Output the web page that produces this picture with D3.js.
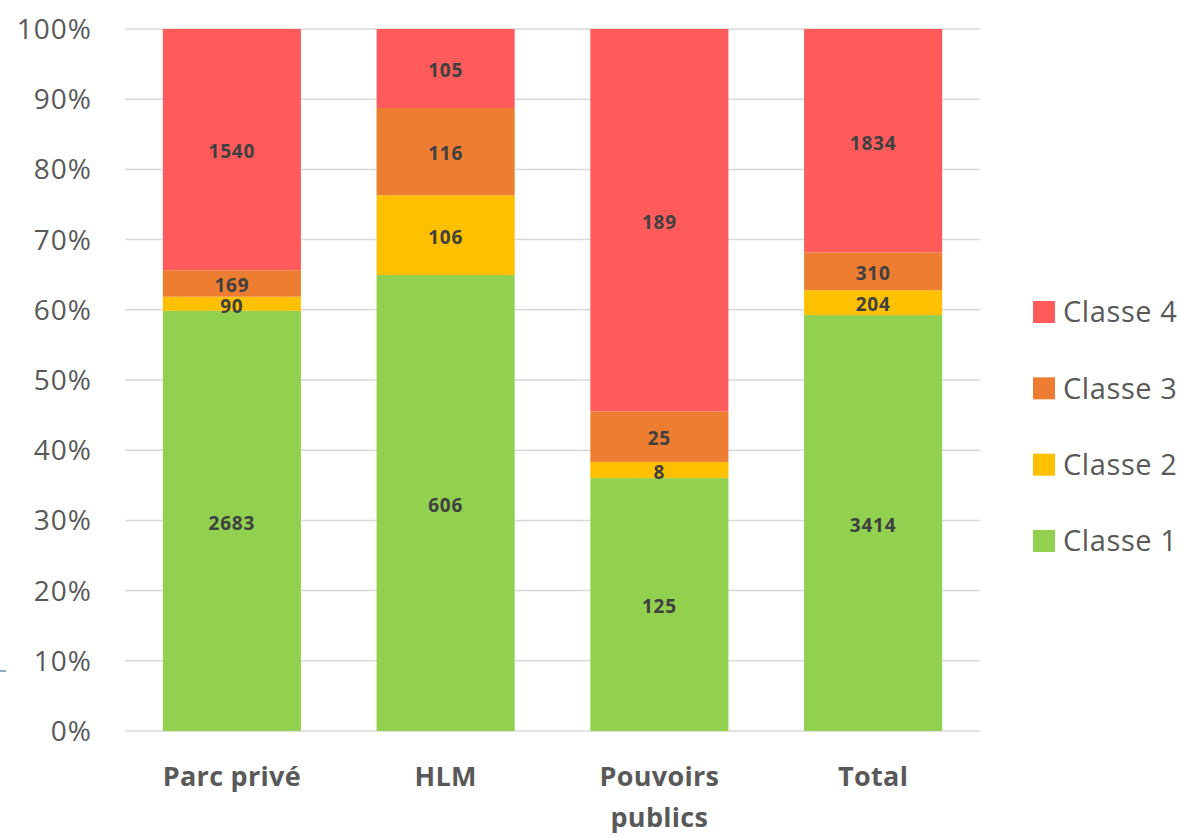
<!DOCTYPE html>
<html><head><meta charset="utf-8">
<script src="https://cdn.jsdelivr.net/npm/d3@7"></script>
<style>body{margin:0;background:#fff}svg{display:block}</style>
</head><body><svg id="c" width="1182" height="837"></svg>
<script>
const categories = ["Parc privé", "HLM", "Pouvoirs publics", "Total"];
const categoryLines = [["Parc privé"], ["HLM"], ["Pouvoirs", "publics"], ["Total"]];
const seriesNames = ["Classe 1", "Classe 2", "Classe 3", "Classe 4"];
const classe1 = [2683, 606, 125, 3414];
const classe2 = [90, 106, 8, 204];
const classe3 = [169, 116, 25, 310];
const classe4 = [1540, 105, 189, 1834];
const colors = ["#92D050", "#FFC000", "#ED7D31", "#FF5B5B"];
const yTicks = [0, 0.1, 0.2, 0.3, 0.4, 0.5, 0.6, 0.7, 0.8, 0.9, 1];

(function () {
const series = [classe1, classe2, classe3, classe4];
const rows = categories.map((c, i) => {
  const r = {cat: c, i: i};
  seriesNames.forEach((s, k) => r[s] = series[k][i]);
  return r;
});
const stacked = d3.stack().keys(seriesNames).offset(d3.stackOffsetExpand)(rows);

const svg = d3.select("#c");
const font = "'Open Sans', sans-serif";
const mLeft = 125, mRight = 980, mTop = 29, mBottom = 731;
const x = d3.scaleBand().domain(categories).range([mLeft, mRight]).paddingInner(0.354).paddingOuter(0.177);
const y = d3.scaleLinear().domain([0, 1]).range([mBottom, mTop]);

svg.append("g").selectAll("line").data(yTicks).join("line")
  .attr("x1", mLeft).attr("x2", mRight)
  .attr("y1", d => y(d)).attr("y2", d => y(d))
  .attr("stroke", "#d9d9d9").attr("stroke-width", 1.5);

svg.append("g").selectAll("text").data(yTicks).join("text")
  .attr("x", 92).attr("y", d => y(d)).attr("dy", "0.36em")
  .attr("text-anchor", "end").attr("font-family", font).attr("font-size", 28)
  .attr("letter-spacing", 1).attr("fill", "#595959").text(d => d3.format(".0%")(d));

const g = svg.append("g");
stacked.forEach((layer, k) => {
  g.append("g").selectAll("rect").data(layer).join("rect")
    .attr("x", d => x(d.data.cat)).attr("width", x.bandwidth())
    .attr("y", d => y(d[1])).attr("height", d => y(d[0]) - y(d[1]))
    .attr("fill", colors[k]);
});
stacked.forEach((layer, k) => {
  g.append("g").selectAll("text").data(layer).join("text")
    .attr("x", d => x(d.data.cat) + x.bandwidth() / 2)
    .attr("y", d => (y(d[0]) + y(d[1])) / 2 + 2).attr("dy", "0.36em")
    .attr("text-anchor", "middle").attr("font-family", font).attr("font-weight", "bold")
    .attr("font-size", 19).attr("letter-spacing", 0.8).attr("fill", "#404040")
    .text(d => d.data[layer.key]);
});

categories.forEach((c, i) => {
  const t = svg.append("text").attr("x", x(c) + x.bandwidth() / 2).attr("y", 786)
    .attr("text-anchor", "middle").attr("font-family", font).attr("font-weight", "bold")
    .attr("font-size", 27).attr("letter-spacing", 0.3).attr("fill", "#595959");
  categoryLines[i].forEach((ln, j) => t.append("tspan").attr("x", x(c) + x.bandwidth() / 2).attr("dy", j ? 41 : 0).text(ln));
});

const legOrder = [3, 2, 1, 0];
const legY = d3.scalePoint().domain(legOrder).range([312, 541]);
legOrder.forEach(k => {
  svg.append("rect").attr("x", 1033).attr("y", legY(k) - 11).attr("width", 22).attr("height", 22).attr("fill", colors[k]);
  svg.append("text").attr("x", 1063).attr("y", legY(k)).attr("dy", "0.36em")
    .attr("font-family", font).attr("font-size", 29).attr("letter-spacing", 0.6).attr("fill", "#595959").text(seriesNames[k]);
});

svg.append("line").attr("x1", 0).attr("x2", 6).attr("y1", 671).attr("y2", 671).attr("stroke", "#6a8fb5").attr("stroke-width", 1.5);
})();
</script></body></html>
